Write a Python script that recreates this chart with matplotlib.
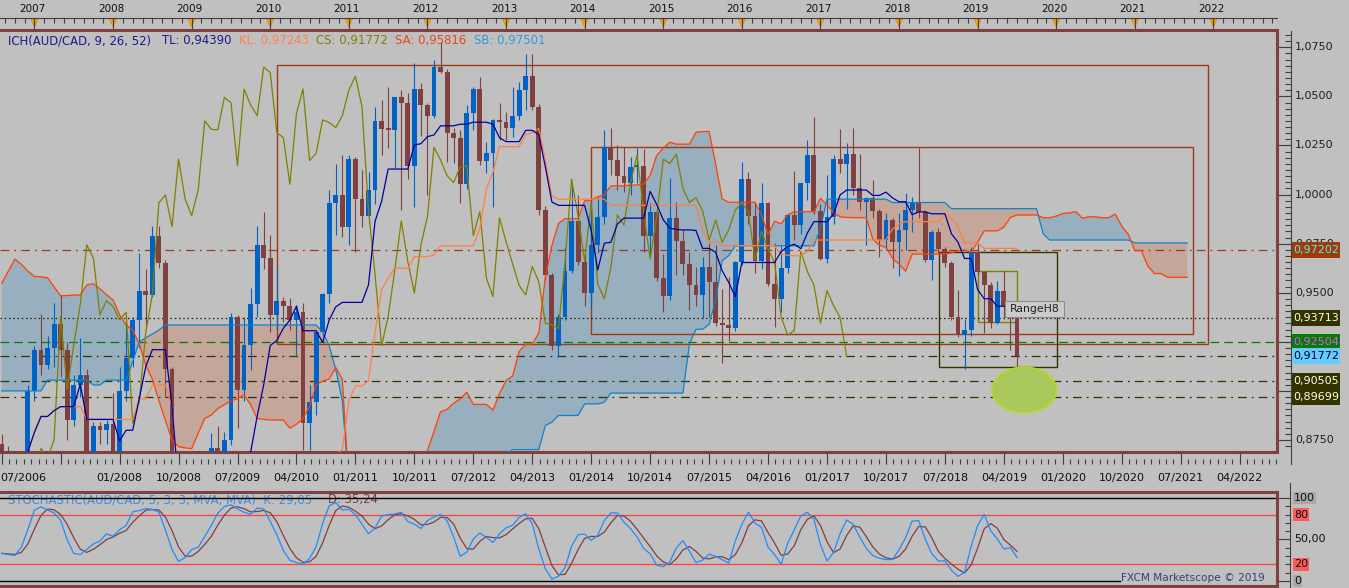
import numpy as np
import pandas as pd
import matplotlib
matplotlib.use("Agg")
import matplotlib.pyplot as plt
from matplotlib.patches import Rectangle, Ellipse, Polygon

plt.rcParams['font.family'] = ['DejaVu Sans']

# ---------------- data : AUD/CAD monthly, month index 0 = 01/2007 ----------------
first_month = -6   # 07/2006

opens = [.873, .866, .862, .858, .862, .900,
         .921, .913, .922, .934, .921, .885, .903, .908, .863, .882, .880, .883,
         .865, .900, .917, .936, .951, .949, .979, .965, .911, .845, .800, .800,
         .850, .795, .820, .8708, .866, .8751, .9379, .9006, .9235, .9442, .9744, .9676,
         .9388, .9459, .943, .9362, .9401, .8836, .8946, .9299, .9493, .9959, .9998, .9837,
         1.0181, .9978, .9893, 1.0023, 1.0375, 1.0332, 1.033, 1.0495, 1.0468, 1.0147, 1.0537, 1.0456,
         1.0402, 1.0648, 1.0622, 1.0316, 1.029, 1.0052, 1.0414, 1.0537, 1.0173, 1.021, 1.038, 1.0367,
         1.0341, 1.0401, 1.0532, 1.0603, 1.0448, .9922, .9591, .9231, .9379, .9611, .9866, .9659,
         .9498, .9744, .9888, 1.0241, 1.0176, 1.0096, 1.0061, 1.0142, 1.0146, .9791, .9913, .9574,
         .9481, .9882, .9761, .9647, .9537, .9489, .9633, .9557, .9345, .9336, .9318, .9655,
         1.0079, .9891, .9662, .9958, .9543, .9469, .9628, .9896, .9845, 1.0057, 1.0201, .9916,
         .9672, .9887, 1.018, 1.0158, 1.0206, 1.0031, .996, .9984, .9918, .9769, .987, .9756,
         .982, .9921, .9958, .9913, .9667, .9811, .9722, .9654, .9376, .9284, .9308, .971,
         .9608, .954, .9345, .951, .9435, .9374]
highs = [.878, .872, .868, .866, .903, .923,
         .939, .928, .945, .949, .925, .908, .927, .911, .884, .884, .885, .899,
         .912, .938, .9375, .970, .962, .984, .984, .9665, .912, .850, .830, .860,
         .865, .840, .8787, .882, .8793, .9396, .9385, .9379, .9523, .9842, .9913, .9794,
         .9634, .948, .9472, .9438, .9447, .9031, .931, .950, 1.0023, 1.0156, 1.0202, 1.0202,
         1.019, 1.0125, 1.0117, 1.0448, 1.0481, 1.055, 1.0498, 1.0532, 1.0515, 1.0668, 1.0566, 1.0465,
         1.0685, 1.0778, 1.064, 1.034, 1.033, 1.0456, 1.0549, 1.06, 1.027, 1.0385, 1.0468, 1.0422,
         1.0549, 1.0575, 1.0715, 1.0715, 1.046, .994, .96, .939, .9735, 1.0057, .9998, .970,
         .993, .999, 1.0329, 1.0339, 1.0254, 1.024, 1.019, 1.0236, 1.023, .9955, .993, .9696,
         1.0082, .9963, .982, .971, .9633, .9684, .9752, .9744, .952, .9579, .966, 1.0167,
         1.0116, .9963, 1.0057, .996, .9752, .9744, .990, 1.012, 1.006, 1.028, 1.0396, .995,
         1.0099, 1.02, 1.0333, 1.0265, 1.0341, 1.0209, .999, 1.0074, .9925, .9904, .988, .9904,
         1.0006, .9989, 1.0238, .992, .982, .9828, .9735, .966, .9512, .9367, .9735, .9752,
         .9611, .9557, .956, .9611, .945, .938]
lows = [.860, .855, .850, .835, .858, .895,
        .908, .911, .912, .907, .875, .882, .897, .822, .855, .873, .873, .860,
        .858, .895, .912, .922, .932, .948, .9625, .897, .800, .720, .770, .790,
        .785, .790, .815, .855, .860, .8725, .881, .895, .9107, .9379, .962, .930,
        .9311, .935, .9311, .9184, .870, .870, .8878, .928, .945, .9794, .9786, .9744,
        .971, .9837, .985, .995, 1.0202, 1.0236, 1.0134, .9922, 1.008, .9939, 1.03, 1.0,
        1.0388, 1.0617, 1.0168, 1.0163, .9959, 1.003, 1.0329, 1.015, 1.0108, .9939, 1.0278, 1.0278,
        1.0295, 1.038, 1.0431, 1.043, .9896, .9566, .9209, .9175, .936, .96, .964, .943,
        .9421, .9701, .985, 1.01, 1.0023, 1.0015, 1.0, 1.006, .971, .9693, .956, .9404,
        .9464, .9591, .9591, .9413, .9435, .937, .9379, .933, .9141, .9252, .9303, .964,
        .985, .96, .962, .9532, .9328, .9404, .960, .9769, .980, .9972, .990, .9667,
        .965, .985, 1.0108, .9929, 1.0, .9921, .9744, .9879, .9684, .9718, .9625, .9586,
        .9718, .9811, .9879, .9659, .9566, .970, .963, .9362, .9277, .9111, .928, .959,
        .9294, .932, .934, .9367, .9208, .9111]
closes = [.866, .862, .858, .862, .900, .921,
          .913, .922, .934, .921, .885, .903, .908, .863, .882, .880, .883, .865,
          .900, .917, .936, .951, .949, .979, .965, .911, .845, .800, .800, .850,
          .795, .820, .8708, .866, .8751, .9379, .9006, .9235, .9442, .9744, .9676, .9388,
          .9459, .943, .9362, .9401, .8836, .8946, .9299, .9493, .9959, .9998, .9837, 1.0181,
          .9978, .9893, 1.0023, 1.0375, 1.0332, 1.033, 1.0495, 1.0468, 1.0147, 1.0537, 1.0456, 1.0402,
          1.0648, 1.0622, 1.0316, 1.029, 1.0052, 1.0414, 1.0537, 1.0173, 1.021, 1.038, 1.0367, 1.0341,
          1.0401, 1.0532, 1.0603, 1.0448, .9922, .9591, .9231, .9379, .9611, .9866, .9659, .9498,
          .9744, .9888, 1.0241, 1.0176, 1.0096, 1.0061, 1.0142, 1.0146, .9791, .9913, .9574, .9481,
          .9882, .9761, .9647, .9537, .9489, .9633, .9557, .9345, .9336, .9318, .9655, 1.0079,
          .9891, .9662, .9958, .9543, .9469, .9628, .9896, .9845, 1.0057, 1.0201, .9916, .9672,
          .9887, 1.018, 1.0158, 1.0206, 1.0031, .996, .9984, .9918, .9769, .987, .9756, .982,
          .9921, .9958, .9913, .9667, .9811, .9722, .9654, .9376, .9284, .9308, .971, .9608,
          .954, .9345, .951, .9435, .9374, .9177]

# leading part of the two senkou spans (months -6 .. 46)
senkou_a_early = [.9548, .961, .9671, .9645, .961, .9583,
                  .9581, .9577, .953, .9484, .9486, .9488, .9489, .954, .9546, .952, .949, .9464,
                  .9387, .9336, .931, .924, .913, .906, .895, .885, .875, .8716, .871, .8706,
                  .8784, .886, .8877, .891, .893, .895, .896, .898, .893, .886, .8855, .8852,
                  .8852, .8852, .881, .883, .886, .892, .903, .905, .906, .912, .906]
senkou_b_early = [.900, .900, .900, .900, .900, .900,
                  .900, .9055, .9055, .9055, .9055, .9055, .9055, .9055, .903, .903, .9055, .9055,
                  .9055, .9055, .915, .925, .927, .929, .931, .9336, .9336, .9336, .9336, .9336,
                  .9336, .9336, .9336, .9336, .9336, .9336, .9336, .9336, .9336, .9336, .9336, .9336,
                  .9336, .9336, .9336, .9336, .9336, .9336, .9336, .930, .923, .911, .895]

# drawn objects: horizontal levels, rectangles, target ellipse
levels = [0.97202, 0.93713, 0.92504, 0.91772, 0.90505, 0.89699]
rect_t0 = [36.1, 84.0, 137.1, 143.1]
rect_t1 = [178.1, 175.9, 155.1, 148.96]
rect_p0 = [0.9240, 0.9288, 0.9123, 0.9349]
rect_p1 = [1.0659, 1.0240, 0.9709, 0.9612]
target_t, target_p = 150.1, 0.9005
target_w, target_h = 9.9, 0.0233

# ---------------- indicators ----------------
t = np.arange(first_month, first_month + len(closes))
df = pd.DataFrame({'o': opens, 'h': highs, 'l': lows, 'c': closes}, index=t)

def mid(n):
    return (df.h.rolling(n, min_periods=1).max() + df.l.rolling(n, min_periods=1).min()) / 2

tenkan = mid(9)
kijun = mid(26)
sa_calc = (tenkan + kijun) / 2
sb_calc = mid(52)

tt = np.arange(first_month, t[-1] + 27)
early = np.arange(first_month, first_month + len(senkou_a_early))
late = tt[tt > early[-1]]
sa = pd.Series(np.nan, index=tt)
sb = pd.Series(np.nan, index=tt)
sa.loc[early] = senkou_a_early
sb.loc[early] = senkou_b_early
sa.loc[late] = sa_calc.loc[late - 26].values
sb.loc[late] = sb_calc.loc[late - 26].values

ll = df.l.rolling(5, min_periods=1).min()
hh = df.h.rolling(5, min_periods=1).max()
k_fast = 100 * (df.c - ll) / (hh - ll)
stoch_k = k_fast.rolling(3, min_periods=1).mean()
stoch_d = stoch_k.rolling(3, min_periods=1).mean()

# ---------------- layout ----------------
W, H = 1349, 588
BG = '#C0C0C0'
FRAME = '#804040'
TICK = '#404040'
X0, DX = 41.0, 6.55          # pixel of month 0, pixels per month
PX_R = 1277                  # right frame
PY_PER_UNIT = 1964           # price scale, pixels per 1.0
t_lo, t_hi = (0 - X0) / DX, (PX_R - X0) / DX

fig = plt.figure(figsize=(W / 100, H / 100), dpi=100, facecolor=BG)

def axes_px(x0, y0, x1, y1):
    a = fig.add_axes([x0 / W, 1 - y1 / H, (x1 - x0) / W, (y1 - y0) / H])
    a.set_facecolor(BG)
    return a

def frame(a):
    a.spines['left'].set_visible(False)
    for s in ('top', 'right', 'bottom'):
        a.spines[s].set_color(FRAME)
        a.spines[s].set_linewidth(2.2)
    a.set_xticks([])
    a.set_yticks([])

ax = axes_px(0, 30, PX_R, 452)
frame(ax)
ax.set_xlim(t_lo, t_hi)
ax.set_ylim(0.8689, 1.0838)

# cloud
ax.fill_between(tt, sa, sb, where=sa >= sb, interpolate=True, color='#97AFBF', lw=0, zorder=1)
ax.fill_between(tt, sa, sb, where=sa < sb, interpolate=True, color='#C5A69B', lw=0, zorder=1)

# rectangles
rect_cols = ['#A03A14', '#A03A14', '#333300', '#808000']
for i in range(len(rect_t0)):
    ax.add_patch(Rectangle((rect_t0[i], rect_p0[i]), rect_t1[i] - rect_t0[i], rect_p1[i] - rect_p0[i],
                           fill=False, ec=rect_cols[i], lw=1.0, zorder=2))

# horizontal levels
lv_style = [('#A03C1E', (0, (7, 4, 1.5, 4))), ('#202000', (0, (1.2, 2.2))), ('#008000', (0, (7, 4))),
            ('#333300', (0, (7, 4, 1.5, 4))), ('#333300', (0, (7, 4, 1.5, 4))), ('#333300', (0, (7, 4, 1.5, 4)))]
for p, (col, ls) in zip(levels, lv_style):
    ax.axhline(p, color=col, ls=ls, lw=0.9, zorder=2)

# candles
bull = df.c >= df.o
cols = np.where(bull, '#0062C4', '#804040')
ax.vlines(t, df.l, df.h, colors=cols, lw=0.8, zorder=3)
ax.bar(t, np.maximum((df.c - df.o).abs(), 0.0008), bottom=np.minimum(df.o, df.c),
       width=0.74, color=cols, lw=0, zorder=3)

# ichimoku lines
ax.plot(tt, sb, color='#0A84C8', lw=0.9, zorder=4)
ax.plot(tt, sa, color='#FF4000', lw=0.9, zorder=4)
ax.plot(t - 26, df.c, color='#808000', lw=0.9, zorder=4)
ax.plot(t, kijun, color='#FF8040', lw=0.9, zorder=4)
ax.plot(t, tenkan, color='#0000A0', lw=0.9, zorder=4)

ax.add_patch(Ellipse((target_t, target_p), target_w, target_h, fc='#ABC85C', ec='#B8DC10', lw=1, zorder=5))

# RangeH8 label
lab_t0, lab_p0 = (1005 - X0) / DX, 0.93763
ax.add_patch(Rectangle((lab_t0, lab_p0), 59 / DX, 16 / PY_PER_UNIT, fc='#CBCBCB', ec='#8C8C8C',
                       lw=0.8, zorder=6))
ax.text(lab_t0 + 29.5 / DX, lab_p0 + 8 / PY_PER_UNIT, 'RangeH8', fontsize=7.8, color='#202020',
        ha='center', va='center', zorder=7)

# --- axes decorations (pixel helpers) ---
xtr = ax.get_xaxis_transform()
ytr = ax.get_yaxis_transform()

def ay(py):
    return (452 - py) / 422

def axx(px):
    return px / PX_R

# top year strip
ax.plot([t_lo, t_hi], [ay(18), ay(18)], transform=xtr, clip_on=False, color=TICK, lw=0.8)
minor_top = np.arange(-1 - 1.5 * 3, t_hi, 1.5)
ax.vlines(minor_top, ay(23.5), ay(18), transform=xtr, clip_on=False, color=TICK, lw=0.8)
years = np.arange(2007, 2023)
for yr in years:
    ty = 12 * (yr - 2007) - 1
    ax.vlines(ty, ay(30), ay(18), transform=xtr, clip_on=False, color=TICK, lw=0.8)
    hw = 3.5 / DX
    ax.add_patch(Polygon([(ty - hw, ay(19)), (ty + hw, ay(19)), (ty, ay(27))], closed=True,
                         transform=xtr, clip_on=False, fc='#FFA018', ec='#E08000', lw=0.5))
    ax.text(ty - 0.3, ay(8.5), str(yr), transform=xtr, ha='center', va='center',
            fontsize=7.5, color='#101010', clip_on=False)

# bottom date strip
minor_bot = np.arange(-6, t_hi, 9 / 8)
ax.vlines(minor_bot, ay(464), ay(458.5), transform=xtr, clip_on=False, color=TICK, lw=0.8)
major_bot = np.arange(-6, t_hi, 9)
ax.vlines(major_bot, ay(464), ay(452.5), transform=xtr, clip_on=False, color=TICK, lw=0.8)
for tm in major_bot:
    if tm == 3:
        continue
    lab = '%02d/%d' % (tm % 12 + 1, 2007 + tm // 12)
    if tm < 0:
        ax.text(t_lo + 0.1, ay(477.5), lab, transform=xtr, ha='left', va='center', fontsize=8,
                color='#101010', clip_on=False)
    else:
        ax.text(tm, ay(477.5), lab, transform=xtr, ha='center', va='center', fontsize=8,
                color='#101010', clip_on=False)

# price axis on the right
ax.plot([axx(1291), axx(1291)], [ay(464), ay(31)], transform=ax.transAxes, clip_on=False, color=TICK, lw=0.8)
p_major = np.arange(0.875, 1.0751, 0.025)
ax.hlines(p_major, axx(1278), axx(1291), transform=ytr, clip_on=False, color=TICK, lw=0.8)
p_minor = np.arange(0.875 - 0.025 / 8, 1.0838, 0.025 / 8)
ax.hlines(p_minor, axx(1284.5), axx(1291), transform=ytr, clip_on=False, color=TICK, lw=0.8)
hidden = [0.900, 0.925]       # covered by the level markers on the reference
for p in p_major:
    if any(abs(p - q) < 1e-6 for q in hidden):
        continue
    ax.text(axx(1295), p, ('%.4f' % p).replace('.', ','), transform=ytr, ha='left', va='center',
            fontsize=8, color='#202020', clip_on=False, zorder=8)

marker_bg = ['#A03A08', '#333300', '#008000', '#66CCFF', '#333300', '#333300']
marker_fg = ['#50F0F0', '#FFFFE0', '#FF40FF', '#000030', '#FFFFE0', '#FFFFE0']
for p, bg, fg in zip(levels, marker_bg, marker_fg):
    ax.add_patch(Rectangle((axx(1291.5), p - 8 / PY_PER_UNIT), axx(48.5), 16 / PY_PER_UNIT, transform=ytr,
                           clip_on=False, fc=bg, ec='none', zorder=9))
    ax.text(axx(1293.5), p, ('%.5f' % p).replace('.', ','), transform=ytr, ha='left', va='center',
            fontsize=8, color=fg, clip_on=False, zorder=10)

# title
title_parts = [(8, 'ICH(AUD/CAD, 9, 26, 52)', '#1A1A8C'), (161.6, 'TL: 0,94390', '#1A1A8C'),
               (239, 'KL: 0,97243', '#FF8050'), (316, 'CS: 0,91772', '#808000'),
               (395, 'SA: 0,95816', '#E84818'), (474.5, 'SB: 0,97501', '#3399DD')]
for px, txt, col in title_parts:
    fig.text(px / W, 1 - 40.5 / H, txt, color=col, fontsize=8.4, ha='left', va='center')

# ---------------- stochastic panel ----------------
sx = axes_px(0, 492, PX_R, 586)
frame(sx)
sx.set_xlim(t_lo, t_hi)
sx.set_ylim(-6.0, 107.2)
sx.text(8 / W, 1 - 500 / H, 'STOCHASTIC(AUD/CAD, 5, 3, 3, MVA, MVA)  K: 29,05', color='#3A8EE6',
        fontsize=8.4, ha='left', va='center', transform=fig.transFigure, zorder=1)
sx.text(328 / W, 1 - 500 / H, 'D: 35,24', color='#804040', fontsize=8.4, ha='left', va='center',
        transform=fig.transFigure, zorder=1)
sx.axhline(100, color='black', lw=1.0, zorder=2)
sx.axhline(80, color='#FF4040', lw=0.9, zorder=2)
sx.axhline(20, color='#FF4040', lw=0.9, zorder=2)
sx.plot([t_lo, (1120 - X0) / DX], [0, 0], color='black', lw=1.0, zorder=2)
sx.plot(t, stoch_d, color='#804040', lw=0.9, zorder=3)
sx.plot(t, stoch_k, color='#1E8CFF', lw=0.9, zorder=3)

sytr = sx.get_yaxis_transform()
sx.plot([axx(1290), axx(1290)], [-0.1, 1.1], transform=sx.transAxes, clip_on=False, color=TICK, lw=0.8)
sx.hlines([0, 50, 100], axx(1278), axx(1290), transform=sytr, clip_on=False, color=TICK, lw=0.8)
sx.hlines(np.arange(0, 101, 10), axx(1284.5), axx(1290), transform=sytr, clip_on=False, color=TICK, lw=0.8)
stoch_labels = [(100, '100', '#A8A8A8'), (80, '80', '#FF5A5A'), (50, '50,00', None),
                (20, '20', '#FF5A5A'), (0, '0', '#A8A8A8')]
for v, txt, bg in stoch_labels:
    kw = {}
    if bg:
        kw['bbox'] = dict(boxstyle='square,pad=0.12', fc=bg, ec='none')
    sx.text(axx(1294), v, txt, transform=sytr, ha='left', va='center', fontsize=8,
            color='#101010', clip_on=False, **kw)

fig.text(1121 / W, 1 - 578 / H, 'FXCM Marketscope \u00a9 2019', color='#3C3C78', fontsize=7.6,
         ha='left', va='center')

fig.savefig('out.png', dpi=100, facecolor=BG)
